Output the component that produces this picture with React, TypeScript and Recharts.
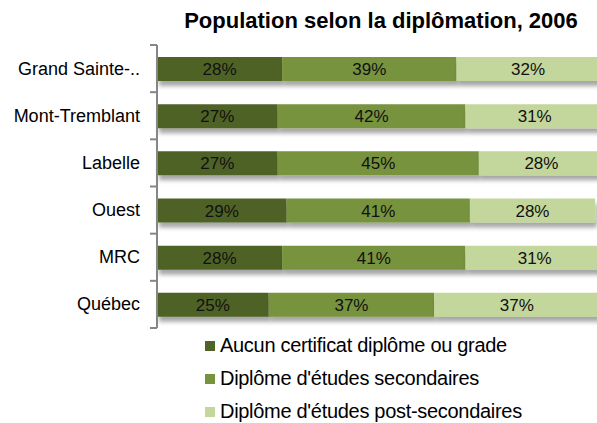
import { BarChart, Bar, XAxis, YAxis, LabelList, Rectangle } from 'recharts';

const regions = ['Grand Sainte-..', 'Mont-Tremblant', 'Labelle', 'Ouest', 'MRC', 'Québec'];
const aucun = [28, 27, 27, 29, 28, 25];
const secondaires = [39, 42, 45, 41, 41, 37];
const postSecondaires = [32, 31, 28, 28, 31, 37];

const seriesNames = [
  'Aucun certificat diplôme ou grade',
  "Diplôme d'études secondaires",
  "Diplôme d'études post-secondaires",
];
const colors = ['#4F6228', '#77933C', '#C3D69B'];

const data = regions.map((region, i) => ({
  region,
  aucun: aucun[i],
  secondaires: secondaires[i],
  postSecondaires: postSecondaires[i],
}));

const FONT = "'Liberation Sans', Arial, sans-serif";
const CHART_H = 423;
const TOP = 45;
const BOTTOM = 95;
const BAND = (CHART_H - TOP - BOTTOM) / regions.length;
const TICK_MARGIN = 17;

function CategoryTick(props: any) {
  const { x, y, payload, index } = props;
  const axisX = x + TICK_MARGIN;
  return (
    <g>
      <text x={x} y={y} dy={6} textAnchor="end" fontSize={18} fontFamily={FONT} fill="#000">
        {payload.value}
      </text>
      <line x1={axisX - 7} x2={axisX} y1={y - BAND / 2} y2={y - BAND / 2} stroke="#868686" strokeWidth={2} />
      {index === regions.length - 1 && (
        <line x1={axisX - 7} x2={axisX} y1={y + BAND / 2} y2={y + BAND / 2} stroke="#868686" strokeWidth={2} />
      )}
    </g>
  );
}

function ShadowBar(props: any) {
  return <Rectangle {...props} filter="url(#barShadow)" />;
}

function LegendBox() {
  return (
    <div
      style={{
        position: 'absolute',
        left: 205,
        top: 329,
        fontFamily: FONT,
        fontSize: 20,
        color: '#000',
      }}
    >
      {seriesNames.map((name, i) => (
        <div key={name} style={{ display: 'flex', alignItems: 'center', height: 33 }}>
          <span style={{ width: 10, height: 10, background: colors[i], marginRight: 5, display: 'inline-block' }} />
          <span style={{ letterSpacing: -0.3 }}>{name}</span>
        </div>
      ))}
    </div>
  );
}

const pct = (v: any) => `${v}%`;

export default function App() {
  return (
    <div
      style={{
        position: 'fixed',
        left: 0,
        top: 0,
        width: 597,
        height: 423,
        overflow: 'hidden',
        background: '#FFFFFF',
      }}
    >
      <div
        style={{
          position: 'absolute',
          left: 176,
          top: 8,
          width: 410,
          textAlign: 'center',
          fontFamily: FONT,
          fontWeight: 700,
          fontSize: 22,
          color: '#000',
        }}
      >
        Population selon la diplômation, 2006
      </div>
      <BarChart
        width={610}
        height={CHART_H}
        data={data}
        layout="vertical"
        margin={{ top: TOP, right: 6, bottom: BOTTOM, left: 0 }}
        barSize={24}
      >
        <defs>
          <filter id="barShadow" x="-5%" y="-20%" width="110%" height="180%">
            <feDropShadow dx={2} dy={5} stdDeviation={2} floodColor="#000" floodOpacity={0.35} />
          </filter>
        </defs>
        <XAxis type="number" domain={[0, 100]} hide />
        <YAxis
          type="category"
          dataKey="region"
          width={157}
          tick={<CategoryTick />}
          tickLine={false}
          tickMargin={TICK_MARGIN}
          tickSize={0}
          axisLine={{ stroke: '#868686', strokeWidth: 2 }}
          interval={0}
        />
        <Bar dataKey="aucun" name={seriesNames[0]} stackId="a" fill={colors[0]} shape={<ShadowBar />} isAnimationActive={false}>
          <LabelList dataKey="aucun" position="center" formatter={pct} fill="#111" fontSize={17} fontFamily={FONT} />
        </Bar>
        <Bar dataKey="secondaires" name={seriesNames[1]} stackId="a" fill={colors[1]} shape={<ShadowBar />} isAnimationActive={false}>
          <LabelList dataKey="secondaires" position="center" formatter={pct} fill="#111" fontSize={17} fontFamily={FONT} />
        </Bar>
        <Bar dataKey="postSecondaires" name={seriesNames[2]} stackId="a" fill={colors[2]} shape={<ShadowBar />} isAnimationActive={false}>
          <LabelList dataKey="postSecondaires" position="center" formatter={pct} fill="#111" fontSize={17} fontFamily={FONT} />
        </Bar>
      </BarChart>
      <LegendBox />
    </div>
  );
}
